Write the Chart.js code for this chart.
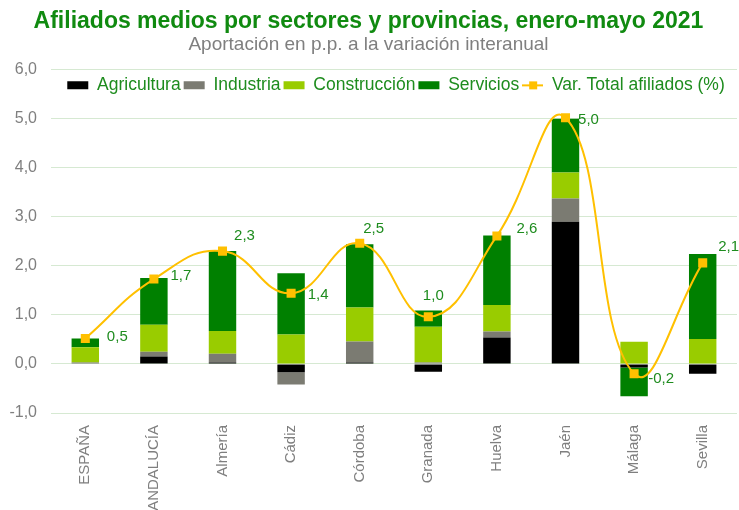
<!DOCTYPE html>
<html>
<head>
    <title>Afiliados medios por sectores y provincias</title>
    <script src="https://cdn.jsdelivr.net/npm/chart.js"></script>
    <style>
        html, body { margin: 0; padding: 0; background: #ffffff; overflow: hidden; }
        #wrap { position: relative; width: 739px; height: 510px; }
    </style>
</head>
<body>
    <div id="wrap"><canvas id="afiliadosChart"></canvas></div>
    <script>
        // categorias y valores (p.p.)
        var provincias = ['ESPAÑA', 'ANDALUCÍA', 'Almería', 'Cádiz', 'Córdoba', 'Granada', 'Huelva', 'Jaén', 'Málaga', 'Sevilla'];
        var agricultura = [0.01, 0.15, 0.03, -0.17, 0.03, -0.16, 0.54, 2.90, -0.07, -0.20];
        var industria = [0.02, 0.10, 0.18, -0.25, 0.43, 0.03, 0.12, 0.47, 0.00, 0.00];
        var construccion = [0.31, 0.55, 0.46, 0.60, 0.69, 0.73, 0.54, 0.53, 0.45, 0.51];
        var servicios = [0.18, 0.95, 1.63, 1.25, 1.29, 0.33, 1.42, 1.10, -0.59, 1.73];
        var varTotal = [0.52, 1.73, 2.30, 1.44, 2.46, 0.96, 2.61, 5.02, -0.20, 2.06];
        var yTicks = [-1, 0, 1, 2, 3, 4, 5, 6];

        var verde = '#1E8C1E';
        var gris = '#7F7F7F';

        function formatoComa(v) {
            return v.toFixed(1).replace('.', ',');
        }

        // icono de leyenda para la linea: trazo con marcador cuadrado
        var iconoLinea = document.createElement('canvas');
        iconoLinea.width = 21;
        iconoLinea.height = 10;
        var ic = iconoLinea.getContext('2d');
        ic.fillStyle = '#FFC000';
        ic.fillRect(0, 4, 21, 2);
        ic.fillRect(7, 1, 8, 8);

        // posicion de las etiquetas respecto a cada marcador
        var desplazamientos = [[32, -2], [27, -3], [22, -15], [27, 2], [14, -14], [5, -21], [30, -7], [23, 2], [27, 5], [26, -16]];

        var etiquetasLinea = {
            id: 'etiquetasLinea',
            afterDatasetsDraw: function (chart) {
                var meta = chart.getDatasetMeta(4);
                var ctx = chart.ctx;
                ctx.save();
                ctx.font = '15px "Liberation Sans", Arial, sans-serif';
                ctx.fillStyle = verde;
                ctx.textAlign = 'center';
                ctx.textBaseline = 'middle';
                meta.data.forEach(function (pt, i) {
                    ctx.fillText(formatoComa(varTotal[i]), pt.x + desplazamientos[i][0], pt.y + desplazamientos[i][1]);
                });
                ctx.restore();
            }
        };

        // la leyenda va dentro del area del grafico, centrada sobre ella
        var leyendaDentro = {
            id: 'leyendaDentro',
            beforeLayout: function (chart) {
                var legend = chart.legend;
                if (legend && !legend._parcheado) {
                    var fitOriginal = legend.fit;
                    legend.fit = function () {
                        fitOriginal.call(this);
                        this.height = 0;
                    };
                    legend._parcheado = true;
                }
            },
            afterLayout: function (chart) {
                var legend = chart.legend;
                var centro = (chart.chartArea.left + chart.chartArea.right) / 2 + 2;
                legend.left = centro - 380;
                legend.right = centro + 380;
                legend.top = chart.chartArea.top + 4;
                legend.bottom = legend.top + 34;
            }
        };

        var ctx = document.getElementById('afiliadosChart').getContext('2d');

        var afiliadosChart = new Chart(ctx, {
            type: 'bar',
            data: {
                labels: provincias,
                datasets: [
                    { label: 'Agricultura', data: agricultura, backgroundColor: '#000000', pointStyle: 'rect', order: 2 },
                    { label: 'Industria', data: industria, backgroundColor: '#7B7B72', pointStyle: 'rect', order: 2 },
                    { label: 'Construcción', data: construccion, backgroundColor: '#99CC00', pointStyle: 'rect', order: 2 },
                    { label: 'Servicios', data: servicios, backgroundColor: '#008000', pointStyle: 'rect', order: 2 },
                    {
                        type: 'line',
                        label: 'Var. Total afiliados (%)',
                        data: varTotal,
                        borderColor: '#FFC000',
                        backgroundColor: '#FFC000',
                        borderWidth: 2,
                        tension: 0.45,
                        pointStyle: 'rect',
                        pointRadius: 6.4,
                        pointHoverRadius: 6.4,
                        pointBackgroundColor: '#FFC000',
                        pointBorderColor: '#FFC000',
                        pointBorderWidth: 0,
                        order: 1
                    }
                ]
            },
            options: {
                responsive: true,
                maintainAspectRatio: false,
                animation: false,
                layout: { autoPadding: false, padding: { left: 0, top: 0, bottom: 0, right: 2 } },
                datasets: {
                    bar: { categoryPercentage: 1.0, barPercentage: 0.4, borderWidth: 0 }
                },
                plugins: {
                    title: {
                        display: true,
                        text: 'Afiliados medios por sectores y provincias, enero-mayo 2021',
                        color: '#108A10',
                        font: { family: '"Liberation Sans", Arial, sans-serif', size: 23, weight: 'bold', lineHeight: 1.2 },
                        padding: { top: 8, bottom: 0 }
                    },
                    subtitle: {
                        display: true,
                        text: 'Aportación en p.p. a la variación interanual',
                        color: gris,
                        font: { family: '"Liberation Sans", Arial, sans-serif', size: 19, lineHeight: 1.0 },
                        padding: { top: 0, bottom: 15 }
                    },
                    legend: {
                        position: 'top',
                        align: 'center',
                        labels: {
                            color: verde,
                            font: { family: '"Liberation Sans", Arial, sans-serif', size: 17.5 },
                            usePointStyle: true,
                            pointStyleWidth: 21,
                            boxHeight: 8,
                            padding: 3,
                            sort: function (a, b) { return a.datasetIndex - b.datasetIndex; },
                            generateLabels: function (chart) {
                                var items = Chart.defaults.plugins.legend.labels.generateLabels(chart);
                                items.forEach(function (it) {
                                    if (it.datasetIndex === 4) { it.pointStyle = iconoLinea; }
                                });
                                return items;
                            }
                        }
                    },
                    tooltip: { enabled: false }
                },
                scales: {
                    x: {
                        stacked: true,
                        grid: { display: false, drawTicks: false },
                        border: { display: false },
                        ticks: {
                            color: gris,
                            font: { family: '"Liberation Sans", Arial, sans-serif', size: 15 },
                            minRotation: 90,
                            maxRotation: 90,
                            autoSkip: false,
                            padding: 12
                        },
                        afterFit: function (scale) {
                            scale.height = 97;
                            scale.paddingLeft = 0;
                            scale.paddingRight = 0;
                        }
                    },
                    y: {
                        stacked: true,
                        min: yTicks[0],
                        max: yTicks[yTicks.length - 1],
                        grid: { color: '#D6E9D2', lineWidth: 1, drawTicks: false },
                        border: { display: false },
                        afterBuildTicks: function (scale) {
                            scale.ticks = yTicks.map(function (v) { return { value: v }; });
                        },
                        ticks: {
                            color: gris,
                            font: { family: '"Liberation Sans", Arial, sans-serif', size: 16 },
                            padding: 14,
                            callback: function (v) { return formatoComa(v); }
                        },
                        afterFit: function (scale) { scale.width = 51; }
                    }
                }
            },
            plugins: [leyendaDentro, etiquetasLinea]
        });
    </script>
</body>
</html>
